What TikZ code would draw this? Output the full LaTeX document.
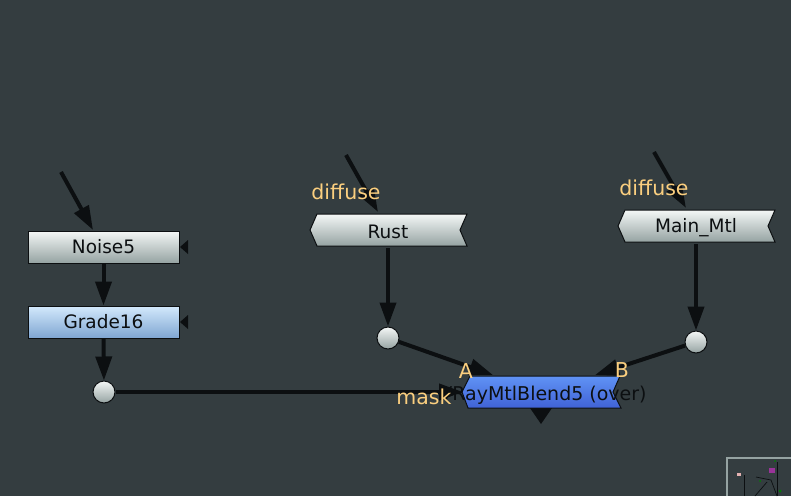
\documentclass[tikz,border=0pt]{standalone}
\usepackage{fontspec}
\setmainfont{DejaVu Sans}
\usetikzlibrary{arrows.meta}
\definecolor{bgcolor}{HTML}{343D40}
\definecolor{labelcolor}{HTML}{FBCF7F}
\definecolor{wirecolor}{HTML}{0C0F11}
\definecolor{greytop}{HTML}{F4F7F6}
\definecolor{greybottom}{HTML}{95A3A2}
\definecolor{bluetop}{HTML}{D3E9FC}
\definecolor{bluebottom}{HTML}{7FA6D2}
\definecolor{blendtop}{HTML}{6093F5}
\definecolor{blendbottom}{HTML}{4062D6}
\tikzset{
  wire/.style = {draw = wirecolor, line width = 4pt},
  link/.style = {wire, -{Triangle[length=24pt,width=16pt]}},
  box/.style = {draw = wirecolor, line width = 1pt, minimum width = 151pt, minimum height = 32pt, inner sep = 0pt, text = wirecolor, font = \fontsize{18.5}{22}\selectfont},
  greybox/.style = {box, top color = greytop, bottom color = greybottom},
  bluebox/.style = {box, top color = bluetop, bottom color = bluebottom},
  tagtext/.style = {inner sep = 0pt, minimum width = 152pt, minimum height = 32pt, text = wirecolor, font = \fontsize{18.5}{22}\selectfont},
  dot/.style = {circle, draw = wirecolor, line width = 1pt, minimum size = 22pt, inner sep = 0pt, top color = greytop, bottom color = greybottom},
  inlabel/.style = {text = labelcolor, inner sep = 0pt, font = \fontsize{20.5}{24}\selectfont}
}
\begin{document}
\begin{tikzpicture}[x=1pt,y=-1pt]
\fill [bgcolor] (0,0) rectangle (791,496);
\useasboundingbox (0,0) rectangle (791,496);
% left column
\node [greybox] (noise) at (103.5,247){\raisebox{-2pt}{Noise5}};
\node [bluebox] (grade) at (103.5,322){\raisebox{-2pt}{Grade16}};
\fill [wirecolor] (180,247) -- (188,240) -- (188,254) -- cycle;
\fill [wirecolor] (180,322) -- (188,315) -- (188,329) -- cycle;
% materials
\foreach \name/\lbl/\cx/\cy in {rust/Rust/388/230,mainmtl/Main\_Mtl/696/226}
{
\shade [draw = wirecolor, line width = 1pt, top color = greytop, bottom color = greybottom]
  (\cx-71,\cy-16) -- (\cx+79,\cy-16) -- (\cx+72,\cy) -- (\cx+79,\cy+16) -- (\cx-71,\cy+16) -- (\cx-78,\cy) -- cycle;
\node [tagtext] (\name) at (\cx,\cy+2){\lbl};
}
% blend node
\shade [draw = wirecolor, line width = 1pt, top color = blendtop, bottom color = blendbottom]
  (470,376) -- (620,376) -- (613,392) -- (621,408) -- (468,408) -- (462,392) -- cycle;
\fill [wirecolor] (530,408) -- (552,408) -- (541,424) -- cycle;
\coordinate (blendA) at (493,375);
\coordinate (blendB) at (595,375);
\coordinate (blendmask) at (463,392);
\coordinate (blendtext) at (543,395);
% dots
\node [dot] (noisedot) at (104,392){};
\node [dot] (rustdot) at (388,338){};
\node [dot] (mtldot) at (696,342){};
% free ends
\coordinate (noisein) at (61,172);
\coordinate (rustin) at (346,155);
\coordinate (mtlin) at (654,152);
\coordinate (rusttop) at (378,212);
\coordinate (mtltop) at (686,208);
\coordinate (noisetop) at (93,230);
% connectors
\draw [link] (noisein) -- (noisetop);
\draw [link] (rustin) -- (rusttop);
\draw [link] (mtlin) -- (mtltop);
\draw [link] (noise) -- (grade);
\draw [link] (grade) -- (noisedot);
\draw [link] (rust) -- (rustdot);
\draw [link] (mainmtl) -- (mtldot);
\draw [link] (rustdot) -- (blendA);
\draw [link] (mtldot) -- (blendB);
\draw [link] (noisedot) -- (blendmask);
% labels
\node [text = wirecolor, inner sep = 0pt, font = \fontsize{19}{22}\selectfont] (blendlabel) at (blendtext){VRayMtlBlend5 (over)};
\node [inlabel] (diffuseA) at (346,192){diffuse};
\node [inlabel] (diffuseB) at (654,188){diffuse};
\node [inlabel] (labelA) at (466,371){A};
\node [inlabel] (labelB) at (622,370){B};
\node [inlabel] (labelmask) at (424,397){mask};
% minimap
\draw [greybottom, line width = 1.2pt] (727,496) -- (727,458) -- (791,458);
\fill [pink!80!gray] (737,473) rectangle (741,476);
\fill [violet!80!white] (769,468) rectangle (775,473);
\draw [wirecolor, line width = 0.7pt] (744,475) -- (744,496);
\draw [wirecolor, line width = 0.7pt] (756,477) -- (771,480) -- (777,496);
\draw [wirecolor, line width = 0.7pt] (777,462) -- (777,496);
\draw [wirecolor, line width = 0.7pt] (767,482) -- (755,496);
\fill [green!50!black] (760,481) circle (1); \fill [green!50!black] (780,491) circle (1.5); \fill [green!50!black] (775,461) circle (1);
\end{tikzpicture}
\end{document}
